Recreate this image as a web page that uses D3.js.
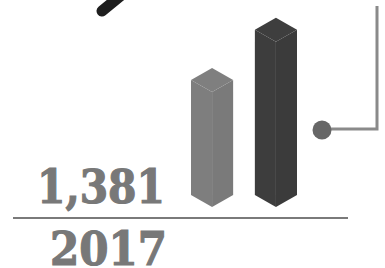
<!DOCTYPE html>
<html><head><meta charset="utf-8">
<script src="https://cdn.jsdelivr.net/npm/d3@7"></script>
<style>html,body{margin:0;padding:0;background:#fff;}svg{display:block;}</style>
</head><body>
<script>
const categories = ["A", "B"];
const barValues = [1381, 1880];
const barColors = ["#7b7b7b", "#3c3c3c"];
const valueLabel = "1,381";
const yearLabel = "2017";

const W = 385, H = 268;
const svg = d3.select("body").append("svg").attr("width", W).attr("height", H);

const x = d3.scaleBand().domain(categories).range([191, 297]).paddingInner(0.34).paddingOuter(0);
const y = d3.scaleLinear().domain([0, 1381]).range([207, 68]);
const depth = 12;

// black diagonal stroke at top-left
svg.append("line").attr("x1", 102).attr("y1", 11).attr("x2", 124).attr("y2", -7)
  .attr("stroke", "#1e1e1e").attr("stroke-width", 11).attr("stroke-linecap", "round");

// 3D bars
const g = svg.append("g");
categories.forEach((c, i) => {
  const l = x(c), w = x.bandwidth(), r = l + w, cx = l + w / 2;
  const top = y(barValues[i]), bot = y(0);
  const base = d3.color(barColors[i]);
  g.append("path").attr("d", `M${l},${top + depth}L${cx},${top + 2 * depth}L${cx},${bot}L${l},${bot - depth}Z`)
    .attr("fill", base.brighter(0.06));
  g.append("path").attr("d", `M${cx},${top + 2 * depth}L${r},${top + depth}L${r},${bot - depth}L${cx},${bot}Z`)
    .attr("fill", base.darker(0.03));
  g.append("path").attr("d", `M${cx},${top}L${r},${top + depth}L${cx},${top + 2 * depth}L${l},${top + depth}Z`)
    .attr("fill", base.brighter(0.1));
});

// callout line with dot
svg.append("path").attr("d", "M377,6L377,129L330,129")
  .attr("fill", "none").attr("stroke", "#8a8a8a").attr("stroke-width", 3);
svg.append("circle").attr("cx", 322).attr("cy", 130).attr("r", 9.5).attr("fill", "#666");

// texts
const txt = (s, xx, yy, len) => svg.append("text").attr("x", xx).attr("y", yy).text(s)
  .attr("font-family", "DejaVu Serif").attr("font-weight", "bold").attr("font-size", 47)
  .attr("fill", "#787878").attr("stroke", "#787878").attr("stroke-width", 1.2)
  .attr("textLength", len).attr("lengthAdjust", "spacingAndGlyphs");
txt(valueLabel, 37, 203, 128);
svg.append("line").attr("x1", 13).attr("x2", 348).attr("y1", 218).attr("y2", 218)
  .attr("stroke", "#7a7a7a").attr("stroke-width", 2);
txt(yearLabel, 50, 265, 117);
</script>
</body></html>
